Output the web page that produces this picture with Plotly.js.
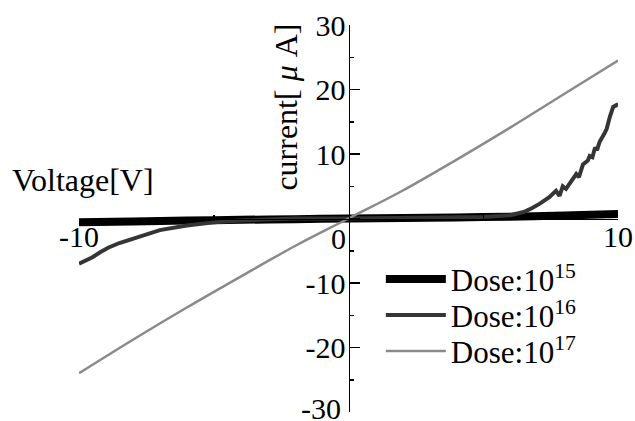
<!DOCTYPE html>
<html>
<head>
<meta charset="utf-8">
<script src="https://cdn.plot.ly/plotly-3.0.1.min.js"></script>
<style>html,body{margin:0;padding:0;background:#fff;}#chart{width:635px;height:421px;}</style>
</head>
<body>
<div id="chart"></div>
<script>
// Dose 1e15
var v15 = [-10, -8, -6, -4, -2, 0, 2, 4, 6, 8, 10];
var i15 = [-0.6, -0.45, -0.32, -0.2, -0.1, 0, 0.08, 0.17, 0.28, 0.45, 0.7];
// Dose 1e16
var v16 = [-10, -9.8, -9.5, -9.2, -8.9, -8.5, -8, -7.5, -7, -6, -5, -4, -3, -2, 0, 2, 4, 5, 6, 6.5, 6.8, 7.1, 7.45, 7.7, 7.83, 7.95, 8.07, 8.3, 8.45, 8.55, 8.7, 8.88, 8.95, 9.05, 9.15, 9.22, 9.32, 9.5, 9.58, 9.7, 9.82, 9.95, 10];
var i16 = [-7.0, -6.6, -6.0, -5.2, -4.5, -3.8, -3.1, -2.4, -1.8, -1.1, -0.6, -0.3, -0.1, 0, 0, 0.05, 0.15, 0.25, 0.5, 1.0, 1.6, 2.3, 3.3, 4.3, 3.5, 5.0, 4.6, 6.0, 6.9, 6.4, 8.4, 9.0, 9.7, 9.5, 11.0, 10.6, 11.9, 13.2, 13.9, 15.8, 17.3, 17.6, 17.4];
// Dose 1e17
var v17 = [-10, -8, -6, -4, -2, 0, 2, 4, 6, 8, 10];
var i17 = [-24.0, -18.8, -13.8, -9.0, -4.3, 0, 4.3, 9.1, 14.1, 19.3, 24.5];

var seriesNames = ['Dose:10<sup>15</sup>', 'Dose:10<sup>16</sup>', 'Dose:10<sup>17</sup>'];
var xTickVals = [-10, 10];
var xTickText = ['-10', '10'];
var yTickVals = [-30, -20, -10, 0, 10, 20, 30];
var yTickText = ['', '-20', '-10', '', '10', '20', '30'];
var yBottomLabel = '-30';

var font = 'Liberation Serif, Times New Roman, serif';

var traces = [
  {x: v15, y: i15, name: seriesNames[0], legend: 'legend', mode: 'lines', line: {color: '#000000', width: 8, shape: 'spline'}},
  {x: v16, y: i16, name: seriesNames[1], legend: 'legend2', mode: 'lines', line: {color: '#353535', width: 4}},
  {x: v17, y: i17, name: seriesNames[2], legend: 'legend3', mode: 'lines', line: {color: '#8a8a8a', width: 2.5, shape: 'spline'}}
];

function leg(y) {
  return {x: 0.56, y: y, xanchor: 'left', yanchor: 'middle', bgcolor: 'rgba(0,0,0,0)', borderwidth: 0,
          font: {family: font, size: 31, color: '#000'}, itemwidth: 60};
}

var layout = {
  width: 635, height: 421,
  margin: {l: 79, r: 17, t: 25, b: 9},
  paper_bgcolor: '#fff', plot_bgcolor: '#fff',
  font: {family: font, size: 30, color: '#000'},
  showlegend: true,
  legend: leg(0.3427),
  legend2: leg(0.2496),
  legend3: leg(0.1566),
  xaxis: {
    range: [-10, 10], anchor: 'free', position: 0.5, side: 'bottom',
    showgrid: false, zeroline: false, showline: true, linecolor: '#000', linewidth: 1.5,
    tickmode: 'array', tickvals: xTickVals, ticktext: xTickText,
    ticks: 'inside', ticklen: 10, tickwidth: 1.5, tickcolor: '#000',
    ticklabelstandoff: -9, ticklabeloverflow: 'allow',
    minor: {tickmode: 'array', tickvals: [-5, 5], ticks: 'inside', ticklen: 4, tickwidth: 1.5, tickcolor: '#000'},
    tickfont: {family: font, size: 30, color: '#000'}
  },
  yaxis: {
    range: [-30, 30], anchor: 'free', position: 0.5, side: 'left',
    showgrid: false, zeroline: false, showline: true, linecolor: '#000', linewidth: 1.5,
    tickmode: 'array', tickvals: yTickVals, ticktext: yTickText,
    ticks: 'inside', ticklen: 10, tickwidth: 1.5, tickcolor: '#000',
    ticklabelstandoff: -3, ticklabeloverflow: 'allow',
    minor: {tickmode: 'array', tickvals: [-25, -15, -5, 5, 15, 25], ticks: 'inside', ticklen: 4, tickwidth: 1.5, tickcolor: '#000'},
    tickfont: {family: font, size: 30, color: '#000'}
  },
  annotations: [
    {text: 'Voltage[V]', xref: 'paper', yref: 'paper', x: 0.0083, y: 0.6, xanchor: 'center', yanchor: 'middle',
     showarrow: false, font: {family: font, size: 32, color: '#000'}},
    {text: 'current[ <i>μ</i> A]', xref: 'paper', yref: 'paper', x: 0.384, y: 1.01, xanchor: 'center', yanchor: 'top',
     textangle: -90, showarrow: false, font: {family: font, size: 32, color: '#000'}},
    {text: '0', xref: 'x', yref: 'y', x: 0, y: 0, xanchor: 'right', yanchor: 'top', xshift: -1, yshift: -1,
     showarrow: false, font: {family: font, size: 30, color: '#000'}},
    {text: yBottomLabel, xref: 'x', yref: 'y', x: 0, y: -30, xanchor: 'right', yanchor: 'middle', xshift: -6, yshift: 4,
     showarrow: false, font: {family: font, size: 30, color: '#000'}}
  ]
};

Plotly.newPlot('chart', traces, layout, {displayModeBar: false, staticPlot: true});
</script>
</body>
</html>
